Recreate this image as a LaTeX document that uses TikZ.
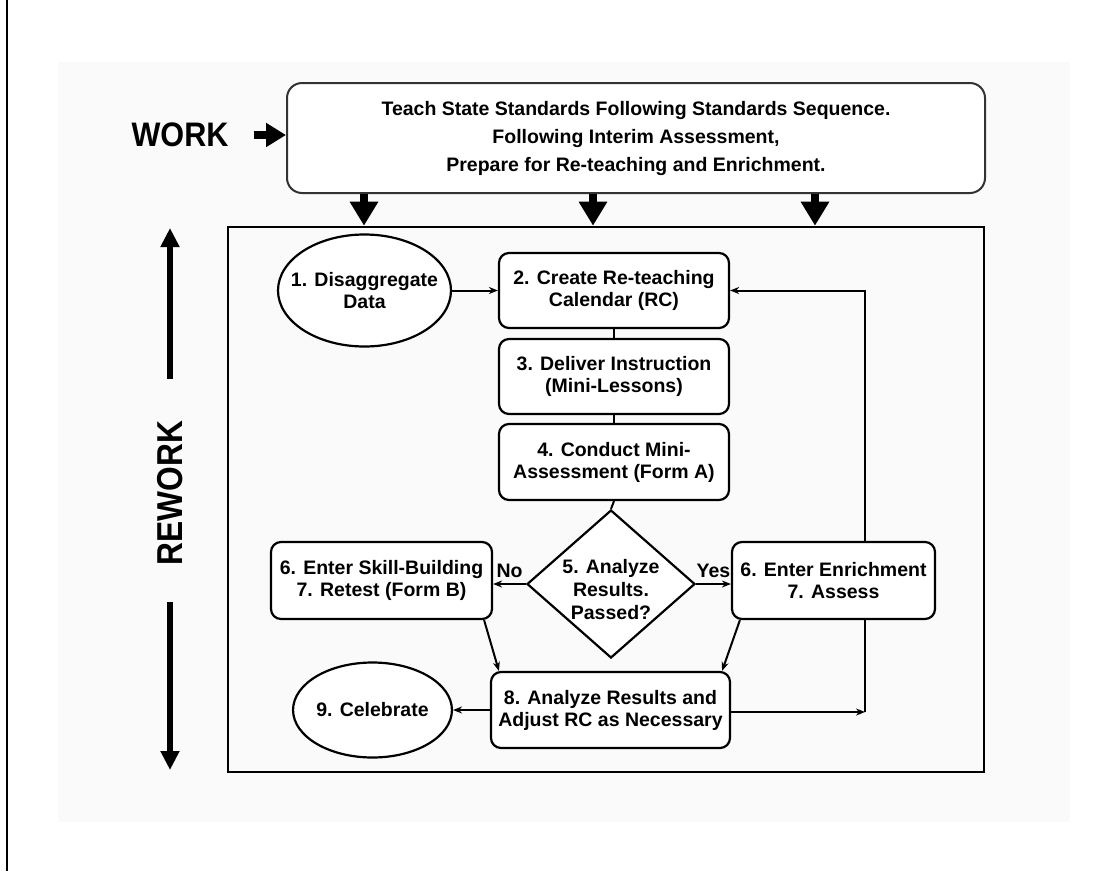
\documentclass[tikz,border=0pt]{standalone}
\usepackage{fontspec}
\setmainfont{Liberation Sans}
\usetikzlibrary{arrows.meta,shapes.geometric}
\pgfdeclarelayer{panel}
\pgfdeclarelayer{lines}
\pgfsetlayers{panel,lines,main}
\newcommand\boxfont{\fontsize{19.5}{22}\selectfont\bfseries}
\tikzset{
  rbox/.style={draw, line width=2.2pt, rounded corners=10pt, fill=white, inner sep=0pt,
    align=center, font=\boxfont},
  oval/.style={draw, line width=2.2pt, ellipse, fill=white, inner sep=0pt, align=center, font=\boxfont},
  dia/.style={draw, line width=2.2pt, diamond, fill=white, inner sep=0pt,
    minimum width=168pt, minimum height=148pt},
  conn/.style={line width=2pt},
  tip/.style={-{Stealth[length=9pt,width=7pt]}},
  bigarrow/.style={line width=8pt, -{Triangle[length=24pt,width=27pt]}},
  workarrow/.style={line width=8pt, -{Triangle[length=20pt,width=23pt]}},
  rwarrow/.style={line width=6pt, -{Triangle[length=19pt,width=18pt]}},
  lbl/.style={font=\boxfont, inner sep=1pt}
}
\begin{document}
\begin{tikzpicture}[x=1pt,y=-1pt]
\useasboundingbox (0,0) rectangle (1117,871);
\begin{pgfonlayer}{panel}
  \fill[white] (0,0) rectangle (1117,871);
  \fill[black!2] (58,62) rectangle (1070,822);
\end{pgfonlayer}
\draw[line width=2pt] (7,0) -- (7,871);

% top
\node[draw=black!80, line width=2pt, rounded corners=15pt, fill=white, minimum width=698pt,
  minimum height=110pt, inner sep=0pt, align=center,
  font=\fontsize{19.5}{28}\selectfont\bfseries] (top) at (636,138)
  {Teach State Standards Following Standards Sequence.\\
   Following Interim Assessment,\\
   Prepare for Re-teaching and Enrichment.};
\node[inner sep=0pt, font=\fontsize{34}{34}\selectfont\bfseries] (work) at (180,135)
  {\scalebox{0.9}[1]{WORK}};
\draw[workarrow, shorten <=25pt] (work.east) -- (work.east -| top.west);

% frame
\node[draw, line width=2.6pt, minimum width=756pt, minimum height=545pt, inner sep=0pt]
  (frame) at (606,499.5) {};
\coordinate (a1) at (364,0);
\coordinate (a2) at (593,0);
\coordinate (a3) at (815,0);
\draw[bigarrow] (top.south -| a1) -- (frame.north -| a1);
\draw[bigarrow] (top.south -| a2) -- (frame.north -| a2);
\draw[bigarrow] (top.south -| a3) -- (frame.north -| a3);

% rework
\node[rotate=90, inner sep=0pt, font=\fontsize{36}{36}\selectfont\bfseries] (rework) at (170,493)
  {\scalebox{0.88}[1]{REWORK}};
\coordinate (ru) at (170,228);
\coordinate (rd) at (170,770);
\draw[rwarrow, shorten <=42pt] (rework.east) -- (rework.east |- ru);
\draw[rwarrow, shorten <=37pt] (rework.west) -- (rework.west |- rd);

% flow nodes
\node[oval, inner xsep=-20pt, minimum width=173pt, minimum height=112pt] (e1) at (364.5,290.5)
  {1. Disaggregate\\Data};
\node[rbox, minimum width=230pt, minimum height=75pt] (b2) at (614,290.5)
  {2. Create Re-teaching\\Calendar (RC)};
\node[rbox, minimum width=230pt, minimum height=75pt] (b3) at (614,376.5)
  {3. Deliver Instruction\\(Mini-Lessons)};
\node[rbox, minimum width=230pt, minimum height=76pt] (b4) at (614,462)
  {4. Conduct Mini-\\Assessment (Form A)};
\node[dia] (d5) at (611,584) {};
\node[font=\fontsize{19.5}{23}\selectfont\bfseries, align=center, inner sep=0pt] (d5text)
  at (611,590) {5. Analyze\\Results.\\Passed?};
\node[rbox, minimum width=221pt, minimum height=77pt] (b6l) at (381.5,580.5)
  {6. Enter Skill-Building\\7. Retest (Form B)};
\node[rbox, minimum width=203pt, minimum height=77pt] (b6r) at (833.5,580.5)
  {6. Enter Enrichment\\7. Assess};
\node[rbox, minimum width=239pt, minimum height=76pt] (b8) at (610.5,710)
  {8. Analyze Results and\\Adjust RC as Necessary};
\node[oval, minimum width=155pt, minimum height=95pt] (e9) at (372.5,710)
  {9. Celebrate};

\coordinate (c1) at (865,712);
\coordinate (c2) at (865,290.5);

\begin{pgfonlayer}{lines}
  \draw[conn, tip] (e1.east) -- (b2.west);
  \draw[conn] (b2.south) -- (b3.north);
  \draw[conn] (b3.south) -- (b4.north);
  \draw[conn] (b4.south) -- (d5.north);
  \draw[conn, tip] (d5.west) -- (d5.west -| b6l.east)
    node[lbl, midway, above=4pt] (no) {No};
  \draw[conn, tip] (d5.east) -- (d5.east -| b6r.west)
    node[lbl, midway, above=4pt] (yes) {Yes};
  \draw[conn, tip] ([xshift=-9pt]b6l.south east) -- ([xshift=9pt]b8.north west);
  \draw[conn, tip] ([xshift=9pt]b6r.south west) -- ([xshift=-9pt]b8.north east);
  \draw[conn, tip] (b8.west) -- (e9.east);
  \draw[conn, tip] (b8.east |- c1) -- (c1);
  \draw[conn, tip] (c1) -- (c2) -- (b2.east);
\end{pgfonlayer}
\end{tikzpicture}
\end{document}
